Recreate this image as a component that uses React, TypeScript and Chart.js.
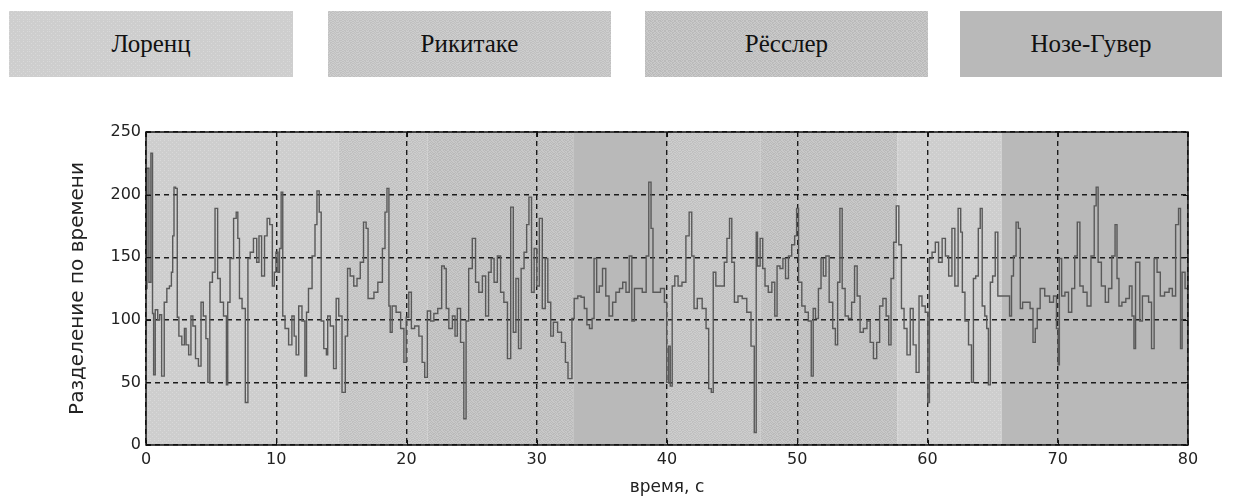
import React, { useEffect, useMemo, useRef } from 'react';
import { Chart, registerables } from 'chart.js';

Chart.register(...registerables);

// ---- data ----
const legendLabels = ['Лоренц', 'Рикитаке', 'Рёсслер', 'Нозе-Гувер'];
const regionStarts = [0, 14.8, 21.6, 32.8, 40, 47.2, 57.7, 65.7];
const regionEnds = [14.8, 21.6, 32.8, 40, 47.2, 57.7, 65.7, 80];
const regionSystem = [0, 1, 2, 3, 1, 2, 0, 3];
const xTicks = [0, 10, 20, 30, 40, 50, 60, 70, 80];
const yTicks = [0, 50, 100, 150, 200, 250];

const times = [
  0, 0.15, 0.3, 0.45, 0.55, 0.62, 0.8, 1.0, 1.1, 1.3, 1.5, 1.7, 1.9, 2.0, 2.1, 2.2, 2.35, 2.45, 2.6, 2.9,
  3.0, 3.15, 3.4, 3.5, 3.7, 3.9, 4.15, 4.3, 4.5, 4.7, 4.8, 5.0, 5.2, 5.4, 5.6, 5.8, 6.1, 6.25, 6.3, 6.6,
  6.85, 7.0, 7.1, 7.25, 7.5, 7.75, 7.9, 8.1, 8.4, 8.6, 8.75, 9.0, 9.2, 9.4, 9.6, 9.8, 9.9, 10.05, 10.2, 10.3,
  10.45, 10.55, 10.8, 11.1, 11.3, 11.45, 11.6, 11.85, 12.1, 12.3, 12.35, 12.6, 12.9, 13.05, 13.2, 13.4, 13.5, 13.8, 13.9, 14.0,
  14.3, 14.5, 14.7, 14.9, 15.2, 15.4, 15.55, 15.8, 16.1, 16.3, 16.6, 16.8, 17.0, 17.1, 17.4, 17.6, 18.0, 18.3, 18.4, 18.6,
  18.7, 18.8, 19.0, 19.4, 19.7, 19.9, 20.05, 20.3, 20.45, 20.8, 21.1, 21.3, 21.5, 21.7, 22.0, 22.2, 22.6, 22.8, 23.0, 23.1,
  23.4, 23.65, 23.8, 24.0, 24.3, 24.5, 24.65, 24.9, 25.2, 25.4, 25.7, 25.95, 26.2, 26.4, 26.6, 26.85, 27.1, 27.35, 27.6, 27.9,
  28.1, 28.3, 28.5, 28.7, 28.9, 29.15, 29.3, 29.5, 29.7, 29.9, 30.1, 30.3, 30.55, 30.75, 30.95, 31.2, 31.35, 31.5, 31.7, 32.1,
  32.3, 32.5, 32.65, 32.75, 33.0, 33.3, 33.5, 33.8, 33.9, 34.2, 34.3, 34.5, 34.7, 34.9, 35.2, 35.4, 35.7, 35.95, 36.2, 36.5,
  36.7, 37.0, 37.2, 37.4, 37.6, 37.9, 38.3, 38.5, 38.7, 38.85, 39.0, 39.3, 39.7, 39.9, 40.05, 40.2, 40.3, 40.5, 40.7, 41.0,
  41.3, 41.6, 41.8, 42.0, 42.15, 42.5, 42.9, 43.1, 43.3, 43.5, 43.6, 43.9, 44.3, 44.5, 44.7, 44.9, 45.05, 45.3, 45.6, 45.95,
  46.3, 46.6, 46.8, 46.9, 47.0, 47.3, 47.4, 47.65, 47.9, 48.2, 48.35, 48.55, 48.8, 49.0, 49.2, 49.45, 49.7, 49.9, 50.0, 50.2,
  50.5, 50.7, 51.0, 51.15, 51.3, 51.5, 51.75, 51.9, 52.1, 52.3, 52.6, 52.85, 53.0, 53.2, 53.35, 53.55, 53.8, 54.05, 54.3, 54.5,
  54.7, 54.95, 55.2, 55.5, 55.7, 56.0, 56.2, 56.45, 56.7, 56.95, 57.1, 57.3, 57.5, 57.7, 57.9, 58.1, 58.3, 58.55, 58.8, 59.0,
  59.25, 59.45, 59.7, 59.95, 60.1, 60.2, 60.5, 60.7, 61.0, 61.25, 61.5, 61.75, 62.0, 62.2, 62.5, 62.6, 62.75, 63.0, 63.3, 63.45,
  63.6, 63.8, 64.0, 64.1, 64.3, 64.5, 64.6, 64.75, 64.9, 65.1, 65.3, 65.5, 65.8, 66.2, 66.4, 66.5, 66.7, 66.9, 67.05, 67.2,
  67.4, 67.75, 68.0, 68.2, 68.35, 68.5, 68.8, 69.2, 69.55, 69.8, 70.0, 70.05, 70.2, 70.4, 70.7, 70.95, 71.2, 71.4, 71.6, 71.8,
  72.1, 72.4, 72.7, 72.9, 73.0, 73.2, 73.5, 73.8, 74.0, 74.3, 74.5, 74.6, 74.8, 75.05, 75.4, 75.6, 75.8, 75.9, 76.05, 76.2,
  76.4, 76.6, 76.85, 77.1, 77.3, 77.5, 77.75, 78.0, 78.4, 78.7, 78.9, 79.2, 79.35, 79.5, 79.6, 79.95,
];

const separation = [
  125, 221, 130, 233, 105, 56, 108, 100, 104, 55, 114, 125, 127, 138, 167, 206, 205, 102, 87, 80,
  93, 80, 72, 103, 95, 69, 63, 114, 103, 85, 50, 130, 138, 189, 133, 114, 103, 48, 114, 149,
  181, 186, 165, 117, 109, 34, 149, 154, 165, 146, 167, 135, 167, 181, 176, 127, 138, 154, 138, 157,
  202, 103, 93, 80, 103, 87, 72, 111, 99, 55, 106, 125, 151, 176, 203, 186, 99, 77, 72, 103,
  95, 61, 117, 103, 42, 87, 141, 135, 127, 133, 146, 178, 173, 117, 117, 122, 130, 157, 186, 205,
  111, 90, 111, 106, 93, 66, 102, 122, 93, 95, 87, 66, 54, 107, 99, 105, 109, 143, 141, 109,
  93, 103, 87, 109, 82, 21, 99, 141, 165, 130, 122, 135, 103, 138, 149, 130, 151, 122, 114, 69,
  190, 90, 133, 77, 141, 154, 176, 198, 122, 157, 127, 181, 109, 149, 114, 87, 98, 98, 90, 82,
  66, 53, 53, 101, 117, 119, 118, 109, 96, 93, 101, 149, 122, 127, 141, 119, 103, 114, 122, 125,
  130, 122, 151, 99, 125, 125, 122, 151, 210, 173, 122, 122, 125, 114, 50, 79, 47, 127, 135, 127,
  130, 167, 186, 151, 109, 117, 109, 93, 45, 42, 138, 127, 127, 146, 165, 181, 146, 114, 119, 117,
  106, 79, 10, 170, 143, 165, 141, 127, 122, 130, 103, 143, 141, 149, 133, 151, 160, 167, 189, 130,
  111, 106, 99, 55, 109, 101, 125, 149, 135, 151, 114, 93, 80, 130, 189, 125, 103, 101, 114, 143,
  119, 90, 93, 99, 82, 69, 82, 111, 117, 103, 80, 133, 162, 191, 160, 109, 93, 72, 109, 80,
  58, 119, 111, 106, 34, 149, 154, 162, 146, 165, 151, 135, 173, 127, 189, 170, 122, 99, 80, 50,
  133, 135, 173, 189, 111, 103, 93, 48, 130, 135, 170, 119, 119, 119, 103, 135, 151, 178, 173, 109,
  114, 114, 109, 82, 93, 109, 125, 119, 114, 119, 93, 64, 149, 119, 122, 106, 125, 151, 178, 127,
  122, 111, 151, 191, 206, 146, 127, 114, 125, 151, 176, 133, 111, 114, 117, 127, 103, 77, 146, 146,
  99, 119, 119, 114, 77, 149, 138, 119, 122, 125, 119, 176, 189, 77, 138, 125,
];

// ---- texture tiles for the four systems ----
const MASK_A = [
  '1011001011',
  '0100110100',
  '1101001011',
  '0010110101',
  '0110011010',
  '1001100101',
  '0110101101',
  '1001010010',
  '0111001101',
  '1000110010',
];
const MASK_B = [
  '0110100110',
  '1011011001',
  '0101101011',
  '1010010100',
  '1100101101',
  '0011010110',
  '1010110001',
  '0101001110',
  '1001110101',
  '0110001010',
];

function makeTile(kind: number): HTMLCanvasElement {
  const n = 10;
  const c = document.createElement('canvas');
  c.width = n;
  c.height = n;
  const g = c.getContext('2d')!;
  if (kind === 0) {
    g.fillStyle = '#cecece';
    g.fillRect(0, 0, n, n);
    g.fillStyle = '#d9d9d9';
    for (let y = 0; y < n; y += 2) {
      for (let x = (y / 2) % 2 === 0 ? 0 : 2; x < n; x += 4) g.fillRect(x, y, 1, 1);
    }
  } else if (kind === 3) {
    g.fillStyle = '#b9b9b9';
    g.fillRect(0, 0, n, n);
  } else {
    const mask = kind === 1 ? MASK_A : MASK_B;
    const light = kind === 1 ? '#cdcdcd' : '#c9c9c9';
    const dark = kind === 1 ? '#c0c0c0' : '#bababa';
    for (let y = 0; y < n; y++) {
      for (let x = 0; x < n; x++) {
        g.fillStyle = mask[y][x] === '1' ? light : dark;
        g.fillRect(x, y, 1, 1);
      }
    }
  }
  return c;
}

const AXIS_FONT = 'DejaVu Sans';

export default function App() {
  const canvasRef = useRef<HTMLCanvasElement | null>(null);
  const tiles = useMemo(() => [0, 1, 2, 3].map((k) => makeTile(k)), []);
  const tileUrls = useMemo(() => tiles.map((t) => t.toDataURL()), [tiles]);

  useEffect(() => {
    const canvas = canvasRef.current;
    if (!canvas) return;
    const ctx = canvas.getContext('2d')!;
    const patterns = tiles.map((t) => ctx.createPattern(t, 'repeat')!);

    const bgPlugin = {
      id: 'regionsAndFrame',
      beforeDraw(chart: any) {
        const { ctx: c, chartArea: a, scales } = chart;
        const xs = scales.x;
        c.save();
        for (let i = 0; i < regionStarts.length; i++) {
          const x0 = xs.getPixelForValue(regionStarts[i]);
          const x1 = xs.getPixelForValue(regionEnds[i]);
          c.fillStyle = patterns[regionSystem[i]];
          c.fillRect(x0, a.top, x1 - x0, a.bottom - a.top);
        }
        c.restore();
      },
      afterDraw(chart: any) {
        const { ctx: c, chartArea: a, scales } = chart;
        c.save();
        c.strokeStyle = '#111';
        c.lineWidth = 1.5;
        c.setLineDash([]);
        c.strokeRect(a.left, a.top, a.right - a.left, a.bottom - a.top);
        c.lineWidth = 1;
        c.beginPath();
        for (const v of xTicks) {
          const px = Math.round(scales.x.getPixelForValue(v)) + 0.5;
          c.moveTo(px, a.bottom);
          c.lineTo(px, a.bottom - 5);
          c.moveTo(px, a.top);
          c.lineTo(px, a.top + 5);
        }
        for (const v of yTicks) {
          const py = Math.round(scales.y.getPixelForValue(v)) + 0.5;
          c.moveTo(a.left, py);
          c.lineTo(a.left + 5, py);
          c.moveTo(a.right, py);
          c.lineTo(a.right - 5, py);
        }
        c.stroke();
        c.restore();
      },
    };

    const points = times.map((t, i) => ({ x: t, y: separation[i] }));

    const chart = new Chart(canvas, {
      type: 'line',
      data: {
        datasets: [
          {
            label: 'Разделение по времени',
            data: points,
            borderColor: '#595959',
            borderWidth: 1.4,
            pointRadius: 0,
            stepped: 'middle',
            fill: false,
          },
        ],
      },
      options: {
        animation: false,
        responsive: false,
        maintainAspectRatio: false,
        devicePixelRatio: 1,
        layout: { padding: { left: 62, right: 45, top: 42, bottom: 0 } },
        plugins: { legend: { display: false }, tooltip: { enabled: false } },
        scales: {
          x: {
            type: 'linear',
            min: 0,
            max: 80,
            afterBuildTicks: (s: any) => {
              s.ticks = xTicks.map((v) => ({ value: v }));
            },
            afterFit: (s: any) => {
              s.height = 55;
            },
            ticks: {
              color: '#222',
              font: { family: AXIS_FONT, size: 16 },
              padding: 5,
              maxRotation: 0,
            },
            grid: { color: '#1c1c1c', lineWidth: 1.4, drawTicks: false },
            border: { display: false, dash: [5, 4] },
            title: {
              display: true,
              text: 'время, с',
              color: '#222',
              font: { family: AXIS_FONT, size: 17 },
              padding: { top: 4, bottom: 2 },
            },
          },
          y: {
            type: 'linear',
            min: 0,
            max: 250,
            afterBuildTicks: (s: any) => {
              s.ticks = yTicks.map((v) => ({ value: v }));
            },
            afterFit: (s: any) => {
              s.width = 84;
            },
            ticks: {
              color: '#222',
              font: { family: AXIS_FONT, size: 16 },
              padding: 5,
            },
            grid: { color: '#1c1c1c', lineWidth: 1.4, drawTicks: false },
            border: { display: false, dash: [5, 4] },
            title: {
              display: true,
              text: 'Разделение по времени',
              color: '#222',
              font: { family: AXIS_FONT, size: 20 },
              padding: { top: 4, bottom: 4 },
            },
          },
        },
      },
      plugins: [bgPlugin],
    });
    return () => chart.destroy();
  }, [tiles]);

  const boxLefts = [9, 328, 645, 960];
  const boxWidths = [284, 283, 283, 262];

  return (
    <div style={{ position: 'absolute', left: 0, top: 0, width: 1233, height: 500, background: '#fff', overflow: 'hidden' }}>
      {legendLabels.map((lab, i) => (
        <div
          key={lab}
          style={{
            position: 'absolute',
            left: boxLefts[i],
            top: 11,
            width: boxWidths[i],
            height: 66,
            backgroundImage: `url(${tileUrls[i]})`,
            backgroundRepeat: 'repeat',
            display: 'flex',
            alignItems: 'center',
            justifyContent: 'center',
            fontFamily: '"Liberation Serif", serif',
            fontSize: 25,
            color: '#111',
          }}
        >
          {lab}
        </div>
      ))}
      <div style={{ position: 'absolute', left: 0, top: 90, width: 1233, height: 410 }}>
        <canvas ref={canvasRef} width={1233} height={410} style={{ display: 'block', width: 1233, height: 410 }} />
      </div>
    </div>
  );
}
